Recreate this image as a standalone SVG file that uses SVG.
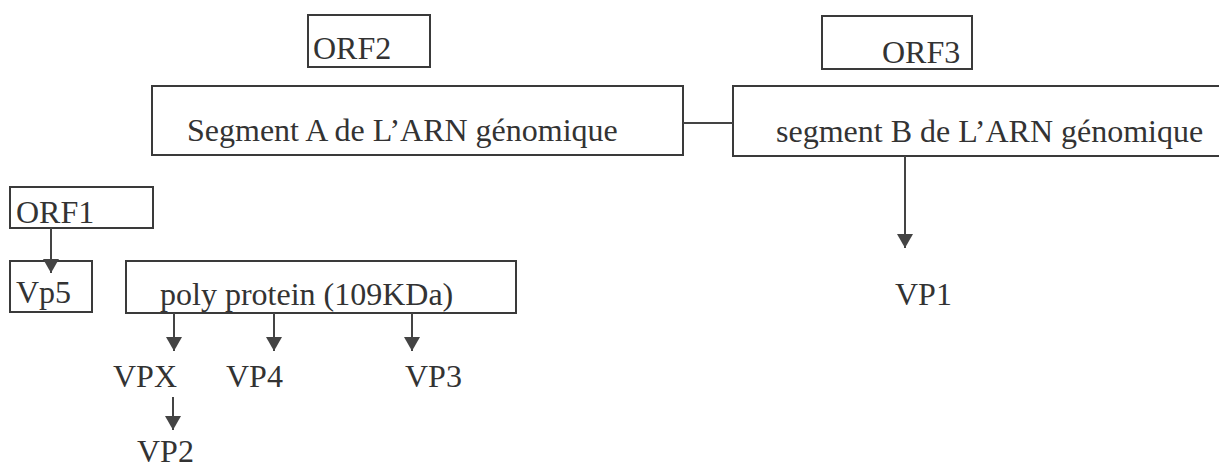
<svg xmlns="http://www.w3.org/2000/svg" width="1219" height="470" viewBox="0 0 1219 470">
<style>
.box{fill:none;stroke:#3a3a3a;stroke-width:2}
.t{font-family:"Liberation Serif","Times New Roman",serif;font-size:32px;fill:#333}
.ln{stroke:#444;stroke-width:2;fill:none}
.arr{stroke:#444;stroke-width:2;fill:none;marker-end:url(#ah)}
</style>
<defs>
<marker id="ah" viewBox="0 0 14 16" refX="14" refY="8" markerWidth="14" markerHeight="16" markerUnits="userSpaceOnUse" orient="auto">
<path d="M0,0 L14,8 L0,16 z" fill="#444"/>
</marker>
</defs>
<rect width="1219" height="470" fill="#fff"/>
<g id="orf2"><rect class="box" x="308" y="15" width="122" height="52"/><text class="t" x="313" y="59">ORF2</text></g>
<g id="segA"><rect class="box" x="152" y="86" width="531" height="69"/><text class="t" x="187" y="141">Segment A de L’ARN génomique</text></g>
<g id="orf3"><rect class="box" x="822" y="16" width="150" height="53"/><text class="t" x="882" y="63">ORF3</text></g>
<g id="segB"><rect class="box" x="733" y="86" width="495" height="70"/><text class="t" x="776" y="142">segment B de L’ARN génomique</text></g>
<g id="orf1"><rect class="box" x="10" y="187" width="143" height="41"/><text class="t" x="16" y="223">ORF1</text></g>
<g id="vp5"><rect class="box" x="10" y="261" width="82" height="51"/><text class="t" x="16" y="303">Vp5</text></g>
<g id="poly"><rect class="box" x="126" y="261" width="390" height="52"/><text class="t" x="160" y="305">poly protein (109KDa)</text></g>
<g id="vpx"><text class="t" x="113" y="387">VPX</text></g>
<g id="vp4"><text class="t" x="226" y="387">VP4</text></g>
<g id="vp3"><text class="t" x="405" y="387">VP3</text></g>
<g id="vp2"><text class="t" x="137" y="462">VP2</text></g>
<g id="vp1"><text class="t" x="895" y="305">VP1</text></g>
<g id="connectors">
<line class="ln" x1="683" y1="123" x2="733" y2="123"/>
<line class="arr" x1="51" y1="228" x2="51" y2="273"/>
<line class="arr" x1="174" y1="313" x2="174" y2="351"/>
<line class="arr" x1="274" y1="313" x2="274" y2="351"/>
<line class="arr" x1="412" y1="313" x2="412" y2="351"/>
<line class="arr" x1="173" y1="397" x2="173" y2="430"/>
<line class="arr" x1="905" y1="156" x2="905" y2="248"/>
</g>
</svg>
